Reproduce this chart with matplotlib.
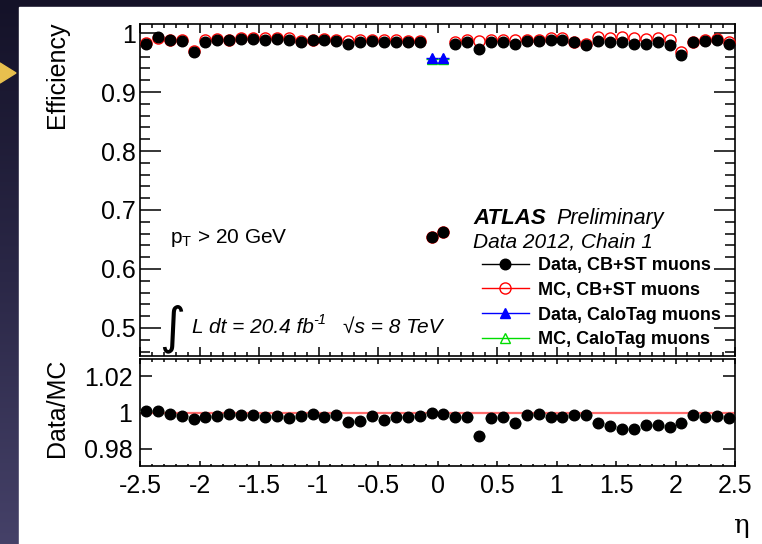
import matplotlib
matplotlib.use("Agg")
import numpy as np
import matplotlib.pyplot as plt
from matplotlib.lines import Line2D
from matplotlib.patches import Rectangle, Polygon
from matplotlib.colors import LinearSegmentedColormap
from matplotlib.ticker import MultipleLocator, FixedLocator

plt.rcParams['font.family'] = ['Liberation Sans', 'DejaVu Sans']
plt.rcParams['mathtext.fontset'] = 'custom'
plt.rcParams['mathtext.rm'] = 'Liberation Sans'
plt.rcParams['mathtext.it'] = 'Liberation Sans:italic'
plt.rcParams['mathtext.bf'] = 'Liberation Sans:bold'

W, H = 762, 544

# eta bin centres (0.1 wide bins)
eta = [-2.45, -2.35, -2.25, -2.15, -2.05, -1.95, -1.85, -1.75, -1.65, -1.55,
       -1.45, -1.35, -1.25, -1.15, -1.05, -0.95, -0.85, -0.75, -0.65, -0.55,
       -0.45, -0.35, -0.25, -0.15, -0.05, 0.05, 0.15, 0.25, 0.35, 0.45,
       0.55, 0.65, 0.75, 0.85, 0.95, 1.05, 1.15, 1.25, 1.35, 1.45,
       1.55, 1.65, 1.75, 1.85, 1.95, 2.05, 2.15, 2.25, 2.35, 2.45]

data_cbst = [0.982, 0.993, 0.988, 0.986, 0.967, 0.985, 0.988, 0.988, 0.990, 0.990,
             0.988, 0.990, 0.988, 0.984, 0.988, 0.988, 0.987, 0.981, 0.984, 0.986,
             0.984, 0.985, 0.984, 0.984, 0.654, 0.662, 0.982, 0.985, 0.973, 0.985,
             0.985, 0.982, 0.986, 0.987, 0.988, 0.988, 0.984, 0.980, 0.987, 0.984,
             0.984, 0.981, 0.982, 0.984, 0.980, 0.962, 0.984, 0.986, 0.988, 0.981]

mc_cbst = [0.983, 0.992, 0.989, 0.988, 0.970, 0.988, 0.990, 0.989, 0.991, 0.991,
           0.991, 0.992, 0.991, 0.986, 0.989, 0.990, 0.989, 0.987, 0.988, 0.988,
           0.988, 0.988, 0.987, 0.986, 0.655, 0.663, 0.985, 0.988, 0.986, 0.989,
           0.988, 0.988, 0.988, 0.988, 0.991, 0.991, 0.985, 0.981, 0.993, 0.992,
           0.993, 0.991, 0.990, 0.991, 0.988, 0.968, 0.985, 0.989, 0.990, 0.984]

ratio = [1.001, 1.001, 0.999, 0.998, 0.9965, 0.9975, 0.998, 0.999, 0.9985, 0.9985,
         0.9975, 0.998, 0.997, 0.998, 0.999, 0.9975, 0.9985, 0.995, 0.9955, 0.998,
         0.996, 0.9975, 0.9975, 0.998, 0.9995, 0.9993, 0.9975, 0.9975, 0.987, 0.9967,
         0.9975, 0.9943, 0.9985, 0.9993, 0.9974, 0.9974, 0.9985, 0.9984, 0.9943, 0.9925,
         0.991, 0.991, 0.9929, 0.9932, 0.9922, 0.9943, 0.9985, 0.9974, 0.998, 0.9971]

eta_calo = [-0.05, 0.05]
data_calo = [0.957, 0.957]
mc_calo = [0.956, 0.956]

xticks = [-2.5, -2, -1.5, -1, -0.5, 0, 0.5, 1, 1.5, 2, 2.5]
xticklabels = ['-2.5', '-2', '-1.5', '-1', '-0.5', '0', '0.5', '1', '1.5', '2', '2.5']
yticks_main = [0.5, 0.6, 0.7, 0.8, 0.9, 1.0]
yticklabels_main = ['0.5', '0.6', '0.7', '0.8', '0.9', '1']
yticks_ratio = [0.98, 1.0, 1.02]
yticklabels_ratio = ['0.98', '1', '1.02']


def px(x, y):
    return (x / W, 1 - y / H)


fig = plt.figure(figsize=(W / 100, H / 100), dpi=100)

# slide background
bg = fig.add_axes([0, 0, 1, 1], zorder=-10)
bg.axis('off')
cmap = LinearSegmentedColormap.from_list('slide', ['#141228', '#2a2746', '#454168'])
bg.imshow(np.linspace(0, 1, 256).reshape(-1, 1), aspect='auto', cmap=cmap,
          extent=[0, 1, 0, 1], transform=bg.transAxes)
bg.add_patch(Rectangle(px(19, 544), (W - 19) / W, (544 - 7) / H,
                       transform=fig.transFigure, color='white', zorder=2))
bg.add_patch(Polygon([px(0, 63), px(16, 73), px(0, 83)], closed=True,
                     transform=fig.transFigure, color='#e8c04e', zorder=2))

ax = fig.add_axes([140 / W, 1 - 356 / H, 595 / W, 332 / H])
axr = fig.add_axes([140 / W, 1 - 466 / H, 595 / W, 107 / H])

# main panel
ax.plot(eta, mc_cbst, 'o', ms=8, mfc='none', mec='red', mew=1.0, zorder=3)
ax.plot(eta, data_cbst, 'o', ms=7.6, color='black', zorder=4)
ax.errorbar(eta_calo, mc_calo, xerr=0.05, fmt='^', ms=7.5, mfc='none', mec='#00dd00',
            ecolor='#00dd00', elinewidth=1, mew=1, zorder=3)
ax.errorbar(eta_calo, data_calo, xerr=0.05, fmt='^', ms=7, color='blue',
            ecolor='blue', elinewidth=1, zorder=4)

ax.set_xlim(-2.5, 2.5)
ax.set_ylim(0.4525, 1.0153)
ax.xaxis.set_major_locator(FixedLocator(xticks))
ax.xaxis.set_minor_locator(MultipleLocator(0.1))
ax.set_xticklabels([])
ax.yaxis.set_major_locator(FixedLocator(yticks_main))
ax.set_yticklabels(yticklabels_main)
ax.yaxis.set_minor_locator(MultipleLocator(0.02))
ax.tick_params(direction='in', top=True, right=True, which='both', width=1.1, labelsize=18, pad=3)
ax.tick_params(axis='y', which='major', length=15)
ax.tick_params(axis='y', which='minor', length=7.2)
ax.tick_params(axis='x', which='major', length=6.5)
ax.tick_params(axis='x', which='minor', length=3)

# ratio panel
axr.axhline(1.0, color='#ff6b6b', lw=1.6, zorder=2)
axr.errorbar(eta, ratio, xerr=0.05, fmt='o', ms=7.6, color='black',
             ecolor='#7fc47f', elinewidth=1, zorder=4)
axr.set_xlim(-2.5, 2.5)
axr.set_ylim(0.9705, 1.0295)
axr.xaxis.set_major_locator(FixedLocator(xticks))
axr.set_xticklabels(xticklabels)
axr.xaxis.set_minor_locator(MultipleLocator(0.1))
axr.yaxis.set_major_locator(FixedLocator(yticks_ratio))
axr.set_yticklabels(yticklabels_ratio)
axr.tick_params(direction='in', top=True, right=True, which='both', width=1.1, labelsize=18)
axr.tick_params(axis='y', which='major', length=8.6, pad=5.5)
axr.tick_params(axis='x', which='major', length=3.6, pad=6)
axr.tick_params(axis='x', which='minor', length=1.8)

for a in (ax, axr):
    for s in a.spines.values():
        s.set_linewidth(1.2)

# axis titles
fig.text(*px(57, 22), 'Efficiency', rotation=90, ha='center', va='top', fontsize=18)
fig.text(*px(57, 408), 'Data/MC', rotation=90, ha='center', va='center', fontsize=18)
fig.text(*px(741, 525), 'η', ha='center', va='center', fontsize=19, family='DejaVu Serif')

# annotations
fig.text(*px(170, 243), r'p$_{\mathrm{T}}$ > 20 GeV', fontsize=15, va='baseline')
fig.text(*px(172, 329), '∫', fontsize=36, family='DejaVu Sans', ha='center', va='center')
fig.text(*px(192, 333), 'L dt = 20.4 fb', fontsize=15, style='italic', va='baseline')
fig.text(*px(313, 324), '-1', fontsize=10.5, style='italic', va='baseline')
fig.text(*px(343, 333), '√s = 8 TeV', fontsize=15, style='italic', va='baseline')
fig.text(*px(473, 224), 'ATLAS', fontsize=16, weight='bold', style='italic', va='baseline')
fig.text(*px(556, 224), 'Preliminary', fontsize=15.5, style='italic', va='baseline')
fig.text(*px(473, 248), 'Data 2012, Chain 1', fontsize=15, style='italic', va='baseline')

handles = [
    Line2D([], [], color='black', lw=1, marker='o', ms=7.6),
    Line2D([], [], color='red', lw=1, marker='o', ms=8, mfc='none', mec='red'),
    Line2D([], [], color='blue', lw=1, marker='^', ms=7),
    Line2D([], [], color='#00dd00', lw=1, marker='^', ms=7.5, mfc='none', mec='#00dd00'),
]
labels = ['Data, CB+ST muons', 'MC, CB+ST muons', 'Data, CaloTag muons', 'MC, CaloTag muons']
ax.legend(handles, labels, loc='upper left', bbox_to_anchor=px(482, 257),
          bbox_transform=fig.transFigure, frameon=False,
          prop={'family': 'Liberation Sans', 'weight': 'bold', 'size': 13},
          handlelength=2.6, handletextpad=0.5, labelspacing=0.43,
          borderpad=0, borderaxespad=0)

fig.savefig('out.png', dpi=100)
